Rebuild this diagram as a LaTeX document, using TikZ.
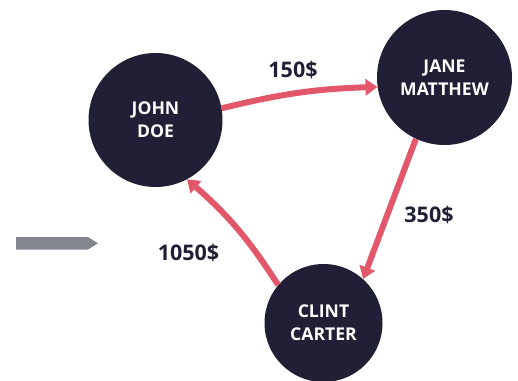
\documentclass[tikz,border=0pt]{standalone}
\usepackage{fontspec}
\setmainfont{Open Sans}
\usetikzlibrary{arrows.meta}
\definecolor{navy}{HTML}{201F36}
\definecolor{redarrow}{HTML}{E2586A}
\definecolor{grayarrow}{HTML}{84868F}
\tikzset{
  person/.style={circle, fill=navy, inner sep=0pt, text=white, align=center,
    font=\fontsize{17.6}{23}\selectfont\bfseries},
  money/.style={text=navy, font=\fontsize{21.5}{25}\selectfont\bfseries, inner sep=0pt},
  flow/.style={draw=redarrow, line width=6pt, -{Triangle[width=16pt,length=12pt]}},
}
\begin{document}
\begin{tikzpicture}[x=1pt,y=-1pt]
\useasboundingbox (0,0) rectangle (518,380);
\node[person, minimum size=134pt] (john) at (155.5,120) {JOHN\\DOE};
\node[person, minimum size=135pt] (jane) at (444.5,77.5) {JANE\\MATTHEW};
\node[person, minimum size=118pt] (clint) at (323.5,323) {CLINT\\CARTER};
\draw[flow] (john.10) to[bend left=6] (jane.188);
\draw[flow] (jane.245) -- (clint.48);
\draw[flow] (clint.140) to[bend right=8] (john.298);
\node[money] (l1) at (293,70) {150\$};
\node[money] (l2) at (429,215) {350\$};
\node[money] (l3) at (188.5,253) {1050\$};
\fill[grayarrow] (16,237) -- (88,237) -- (98,243.3) -- (88,249.5) -- (16,249.5) -- cycle;
\end{tikzpicture}
\end{document}
